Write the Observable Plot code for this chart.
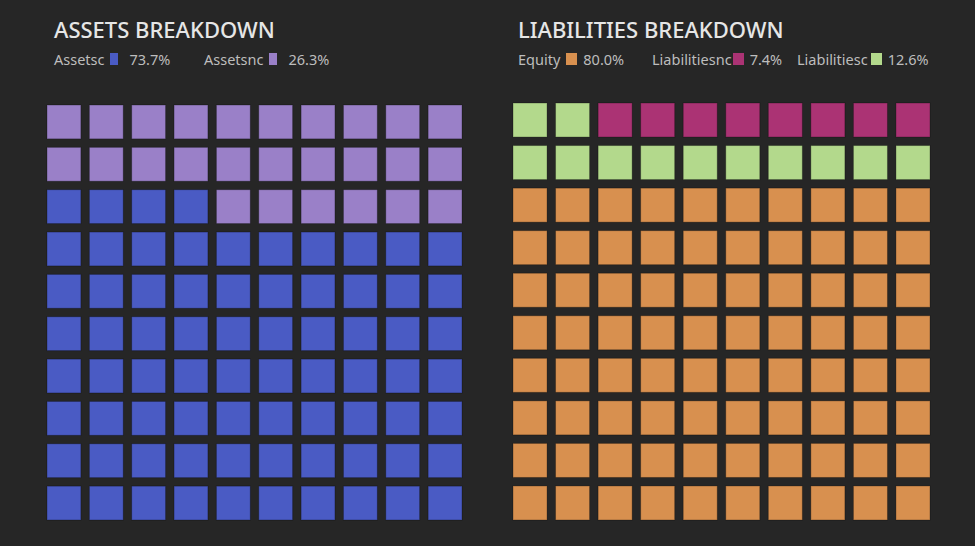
<!DOCTYPE html>
<html>
<head>
<meta charset="utf-8">
<script src="https://cdn.jsdelivr.net/npm/d3@7"></script>
<script src="https://cdn.jsdelivr.net/npm/@observablehq/plot@0.6"></script>
<style>
  html, body { margin: 0; padding: 0; background: #262626; }
  #root { position: relative; width: 975px; height: 546px; background: #262626; overflow: hidden;
          font-family: "Noto Sans", "Open Sans", sans-serif; }
  .panel { position: absolute; top: 0; height: 546px; }
  .panel svg { position: absolute; left: 0; top: 0; }
  .title { position: absolute; top: 14px; font-size: 22px; font-weight: 500; color: #e6e6e6;
           white-space: nowrap; z-index: 2; }
  .item { position: absolute; top: 49px; display: flex; align-items: center; font-size: 14.5px;
          color: #bdbdbd; white-space: nowrap; z-index: 2; }
  .sw { display: inline-block; height: 12px; }
</style>
</head>
<body>
<div id="root"></div>
<script>
// ---- data ----
const assetTitle = "ASSETS BREAKDOWN";
const assetCategories = ["Assetsc", "Assetsnc"];          // legend order
const assetPercents = ["73.7%", "26.3%"];
const assetFillOrder = ["Assetsc", "Assetsnc"];           // fill order (bottom-left first)
const assetCellCounts = [74, 26];                         // cells per fill-order category

const liabTitle = "LIABILITIES BREAKDOWN";
const liabCategories = ["Equity", "Liabilitiesnc", "Liabilitiesc"]; // legend order
const liabPercents = ["80.0%", "7.4%", "12.6%"];
const liabFillOrder = ["Equity", "Liabilitiesc", "Liabilitiesnc"];
const liabCellCounts = [80, 12, 8];

const gridCols = d3.range(10);
const gridRows = d3.range(10);

// colour scale ranges (styles)
const assetColors = ["#4a5bc4", "#9a80c8"];
const liabColors = ["#d8904f", "#ab3374", "#b3d98c"];

function buildCells(order, counts) {
  const seq = [];
  order.forEach((c, k) => { for (let i = 0; i < counts[k]; i++) seq.push(c); });
  return seq.map((category, i) => ({
    col: i % gridCols.length,
    row: gridRows.length - 1 - Math.floor(i / gridCols.length),
    category
  }));
}

function makePanel(o) {
  const root = document.getElementById("root");
  const panel = document.createElement("div");
  panel.className = "panel";
  panel.style.left = o.left + "px";
  panel.style.width = o.width + "px";
  root.appendChild(panel);

  const cells = buildCells(o.order, o.counts);
  const chart = Plot.plot({
    width: o.width, height: 546,
    marginLeft: o.marginLeft, marginRight: o.marginRight, marginTop: o.marginTop, marginBottom: 26,
    style: {background: "transparent"},
    x: {domain: gridCols, paddingInner: 0.2, paddingOuter: 0, round: false, axis: null},
    y: {domain: gridRows, paddingInner: 0.2, paddingOuter: 0, round: false, axis: null},
    color: {domain: o.cats, range: o.colors},
    marks: [
      Plot.cell(cells, {x: "col", y: "row", fill: "category", inset: 0,
                        stroke: "#000", strokeOpacity: 0.28, strokeWidth: 1})
    ]
  });
  panel.appendChild(chart);

  const t = document.createElement("div");
  t.className = "title";
  t.style.left = o.titleLeft + "px";
  t.textContent = o.title;
  panel.appendChild(t);

  o.cats.forEach((c, i) => {
    const it = document.createElement("div");
    it.className = "item";
    it.style.left = o.itemLefts[i] + "px";
    const lab = document.createElement("span");
    lab.textContent = c;
    const sw = document.createElement("span");
    sw.className = "sw";
    sw.style.width = o.swatchW + "px";
    sw.style.marginLeft = o.labelGaps[i] + "px";
    sw.style.marginRight = o.pctGap + "px";
    sw.style.background = o.colors[i];
    const p = document.createElement("span");
    p.textContent = o.pcts[i];
    it.append(lab, sw, p);
    panel.appendChild(it);
  });
}

makePanel({left: 0, width: 487, marginLeft: 47, marginRight: 25, marginTop: 105,
  title: assetTitle, cats: assetCategories, pcts: assetPercents, order: assetFillOrder,
  counts: assetCellCounts, colors: assetColors, titleLeft: 54,
  itemLefts: [54, 204], labelGaps: [6, 6], pctGap: 11, swatchW: 8});

makePanel({left: 487, width: 488, marginLeft: 26, marginRight: 45, marginTop: 103,
  title: liabTitle, cats: liabCategories, pcts: liabPercents, order: liabFillOrder,
  counts: liabCellCounts, colors: liabColors, titleLeft: 31,
  itemLefts: [31, 165, 310], labelGaps: [6, 1, 3], pctGap: 6, swatchW: 11});
</script>
</body>
</html>
